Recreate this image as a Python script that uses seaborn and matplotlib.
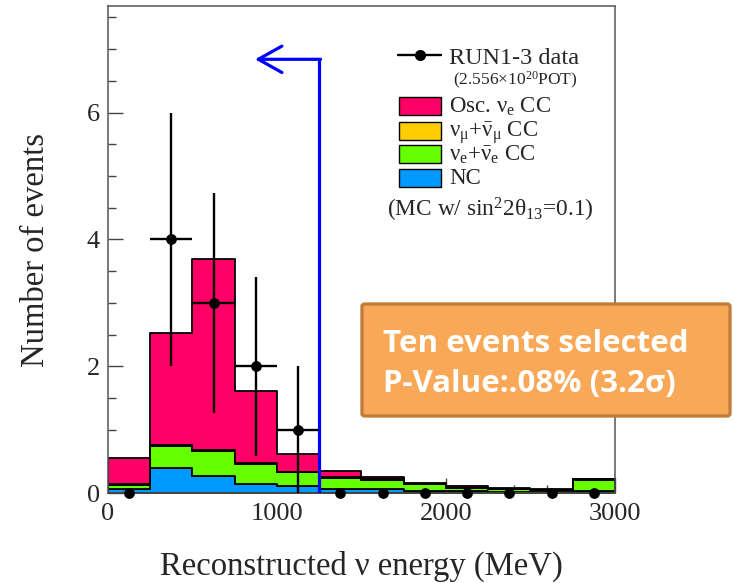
import numpy as np
import pandas as pd
import matplotlib
matplotlib.use("Agg")
import matplotlib.pyplot as plt
import seaborn as sns
from matplotlib.patches import Rectangle, FancyBboxPatch
from matplotlib.lines import Line2D
from matplotlib.ticker import MultipleLocator

# ---------------- data ----------------
bin_edges = [0, 250, 500, 750, 1000, 1250, 1500, 1750, 2000, 2250, 2500, 2750, 3000]
bin_centers = [125, 375, 625, 875, 1125, 1375, 1625, 1875, 2125, 2375, 2625, 2875]
osc_nue_cc = [0.42, 1.77, 3.02, 1.14, 0.285, 0.10, 0.04, 0.02, 0.025, 0.015, 0.01, 0.005]
numu_cc = [0.005, 0.01, 0.01, 0.01, 0.005, 0.005, 0.005, 0.003, 0.003, 0.002, 0.002, 0.003]
beam_nue_cc = [0.075, 0.346, 0.40, 0.31, 0.225, 0.171, 0.155, 0.107, 0.057, 0.053, 0.028, 0.177]
nc = [0.06, 0.40, 0.27, 0.15, 0.11, 0.074, 0.06, 0.04, 0.03, 0.02, 0.02, 0.04]
data_counts = [0, 4, 3, 2, 1, 0, 0, 0, 0, 0, 0, 0]

component_names = ["Osc. nue CC", "numu CC", "beam nue CC", "NC"]
component_colors = ["#FF0066", "#FFCC00", "#66FF00", "#0099FF"]

cut_energy = 1250
arrow_y = 6.84
arrow_tip = 870

# ---------------- style ----------------
sns.set_style("ticks")
plt.rcParams["font.family"] = ["Liberation Serif", "DejaVu Serif"]
plt.rcParams["mathtext.fontset"] = "custom"
plt.rcParams["mathtext.rm"] = "Liberation Serif"
plt.rcParams["mathtext.it"] = "Liberation Serif:italic"
plt.rcParams["mathtext.bf"] = "Liberation Serif:bold"

W, H = 733, 583
fig = plt.figure(figsize=(W / 100, H / 100), dpi=100)
ax = fig.add_axes([108 / W, 1 - 493.3 / H, 507 / W, (493.3 - 6) / H])

def P(x, y):
    return (x / W, 1 - y / H)

# ---------------- stacked histogram ----------------
rows = []
for name, vals in zip(component_names, [osc_nue_cc, numu_cc, beam_nue_cc, nc]):
    for c, v in zip(bin_centers, vals):
        rows.append({"energy": c, "events": v, "component": name})
df = pd.DataFrame(rows)

sns.histplot(data=df, x="energy", weights="events", hue="component",
             hue_order=component_names, palette=component_colors,
             multiple="stack", bins=bin_edges, element="step", fill=True,
             alpha=1, edgecolor="black", linewidth=1.3, legend=False, ax=ax)

# ---------------- data points ----------------
centers = np.array(bin_centers, dtype=float)
counts = np.array(data_counts, dtype=float)
nz = counts > 0
ax.errorbar(centers[nz], counts[nz], yerr=np.sqrt(counts[nz]), xerr=125,
            fmt="none", ecolor="black", elinewidth=1.7, capsize=0, zorder=6)
pts = pd.DataFrame({"energy": centers, "n": counts})
sns.scatterplot(data=pts, x="energy", y="n", color="black", s=60,
                edgecolor="black", linewidth=0, zorder=7, clip_on=False, ax=ax)

# ---------------- cut arrow ----------------
ax.plot([cut_energy, cut_energy], [0, arrow_y], color="#0000FF", lw=2.3,
        zorder=5, solid_capstyle="butt")
ax.annotate("", xy=(arrow_tip, arrow_y), xytext=(cut_energy + 8, arrow_y),
            arrowprops=dict(arrowstyle="->,head_length=1.7,head_width=0.95",
                            color="#0000FF", lw=2.3, shrinkA=0, shrinkB=0),
            zorder=5)

# ---------------- axes ----------------
ax.set_xlim(0, 3000)
ax.set_ylim(0, 7.68)
ax.xaxis.set_major_locator(MultipleLocator(1000))
ax.xaxis.set_minor_locator(MultipleLocator(200))
ax.yaxis.set_major_locator(MultipleLocator(2))
ax.yaxis.set_minor_locator(MultipleLocator(0.5))
ax.tick_params(which="both", direction="in", top=False, right=False,
               color="#444444", width=1.0)
ax.tick_params(which="major", length=11, labelsize=19)
ax.tick_params(which="minor", length=5.5)
ax.tick_params(axis="x", pad=7)
ax.tick_params(axis="y", pad=6)
for s in ax.spines.values():
    s.set_color("#555555")
    s.set_linewidth(1.1)
    s.set_visible(True)

ax.set_xlabel("Reconstructed ν energy (MeV)", fontsize=23.5)
ax.set_ylabel("Number of events", fontsize=23.5)
ax.xaxis.label.set_va("center")
ax.yaxis.label.set_va("center")
ax.xaxis.set_label_coords(0.5, (493.3 - 566) / 487.3)
ax.yaxis.set_label_coords((36 - 108) / 507, 0.5)

# ---------------- legend (drawn) ----------------
fs = 16.5
fig.add_artist(Line2D([398 / W, 441 / W], [1 - 55 / H] * 2, color="black", lw=1.7))
fig.add_artist(Line2D([419.5 / W], [1 - 55 / H], marker="o", ms=7, color="black"))
fig.text(*P(449, 64), "RUN1-3 data", fontsize=17.5, va="baseline")
fig.text(*P(453, 85), "(2.556×10$^{20}$POT)", fontsize=12.5, va="baseline")

leg_labels = ["Osc. ν$_\\mathrm{e}$ CC",
              "ν$_\\mathrm{μ}$+$\\bar{\\mathrm{ν}}_\\mathrm{μ}$ CC",
              "ν$_\\mathrm{e}$+$\\bar{\\mathrm{ν}}_\\mathrm{e}$ CC",
              "NC"]
row_tops = [97, 121.5, 145, 168.5]
label_baselines = [113, 136.5, 161, 184.5]
for lab, col, top, bl in zip(leg_labels, component_colors, row_tops, label_baselines):
    fig.add_artist(Rectangle(P(399, top + 18), 42 / W, 18 / H,
                             transform=fig.transFigure, facecolor=col,
                             edgecolor="black", lw=1.0))
    fig.text(*P(449, bl), lab, fontsize=fs, va="baseline")
fig.text(*P(387, 217), "(MC w/ sin$^{2}$2θ$_{13}$=0.1)", fontsize=16.8, va="baseline")

# ---------------- annotation box ----------------
box = FancyBboxPatch(P(362, 416), 368 / W, 112 / H,
                     boxstyle="round,pad=0,rounding_size=0.004",
                     transform=fig.transFigure, facecolor="#F9A857",
                     edgecolor="#C27D3C", lw=2.4, zorder=10)
fig.add_artist(box)
fig.text(*P(383, 352), "Ten events selected", color="white", fontsize=22.5,
         fontweight="bold", family=["Open Sans", "DejaVu Sans"],
         va="baseline", zorder=11)
fig.text(*P(383, 392), "P-Value:.08% (3.2σ)", color="white", fontsize=22.5,
         fontweight="bold", family=["Open Sans", "DejaVu Sans"],
         va="baseline", zorder=11)

fig.savefig("out.png", dpi=100)
